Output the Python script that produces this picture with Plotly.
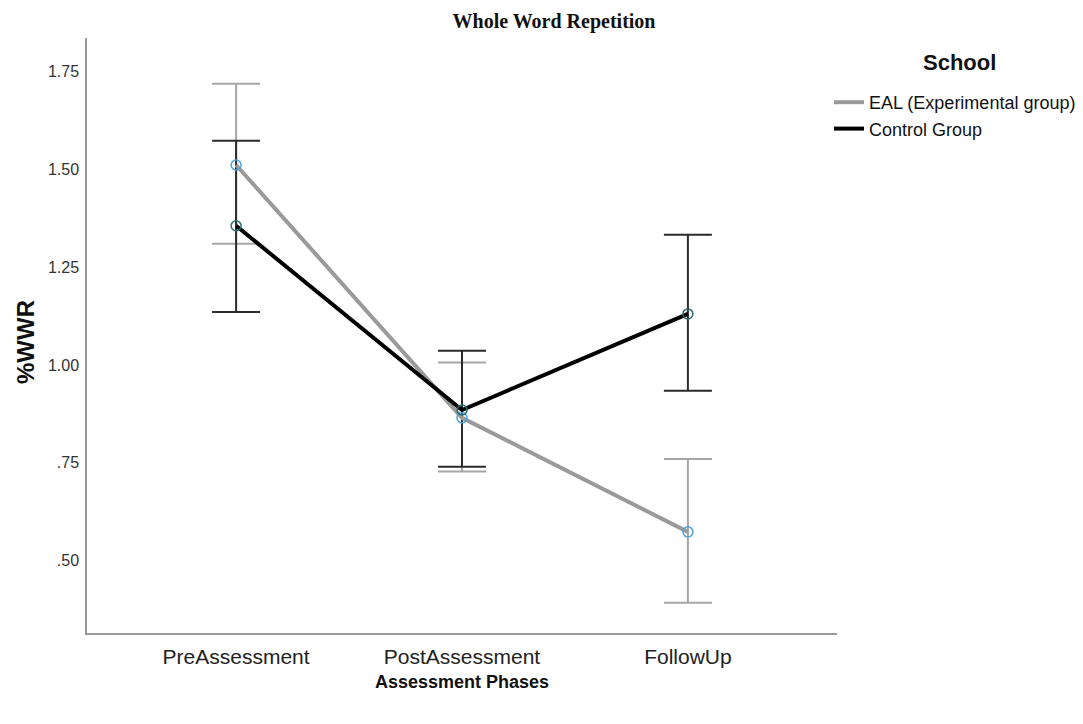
import plotly.graph_objects as go

phases = ["PreAssessment", "PostAssessment", "FollowUp"]
eal_mean = [1.51, 0.865, 0.574]
eal_upper = [1.717, 1.006, 0.760]
eal_lower = [1.309, 0.728, 0.393]
ctl_mean = [1.355, 0.885, 1.130]
ctl_upper = [1.572, 1.036, 1.332]
ctl_lower = [1.135, 0.740, 0.934]
ytick_vals = [0.5, 0.75, 1.0, 1.25, 1.5, 1.75]
ytick_text = [".50", ".75", "1.00", "1.25", "1.50", "1.75"]

SANS = "Liberation Sans, Arial, sans-serif"

xi = [0, 1, 2]

def err(mean, up, lo):
    return dict(type="data", symmetric=False,
                array=[u - m for u, m in zip(up, mean)],
                arrayminus=[m - l for m, l in zip(mean, lo)])

fig = go.Figure()

e1 = err(eal_mean, eal_upper, eal_lower)
e1.update(color="#a6a6a6", thickness=2, width=24)
fig.add_trace(go.Scatter(x=xi, y=eal_mean, mode="markers", marker=dict(size=1, color="rgba(0,0,0,0)"),
                         error_y=e1, showlegend=False, hoverinfo="skip"))
e2 = err(ctl_mean, ctl_upper, ctl_lower)
e2.update(color="#2b2b2b", thickness=2, width=24)
fig.add_trace(go.Scatter(x=xi, y=ctl_mean, mode="markers", marker=dict(size=1, color="rgba(0,0,0,0)"),
                         error_y=e2, showlegend=False, hoverinfo="skip"))

fig.add_trace(go.Scatter(x=xi, y=eal_mean, mode="lines", name="EAL (Experimental group)",
                         line=dict(color="#9a9a9a", width=4)))
fig.add_trace(go.Scatter(x=xi, y=ctl_mean, mode="lines", name="Control Group",
                         line=dict(color="#000000", width=4)))

fig.add_trace(go.Scatter(x=xi, y=eal_mean, mode="markers", showlegend=False,
                         marker=dict(symbol="circle-open", size=10, color="#4aa3df", line=dict(width=1.5))))
fig.add_trace(go.Scatter(x=xi, y=ctl_mean, mode="markers", showlegend=False,
                         marker=dict(symbol="circle-open", size=10, color="#2a7070", line=dict(width=1.5))))

W, H = 1083, 724
L, R, T, B = 87, 837, 38, 633

def cx(px):
    return px / W

def cy(py):
    return 1 - py / H

fig.update_layout(
    width=W, height=H,
    margin=dict(l=L, r=W - R, t=T, b=H - B, autoexpand=False),
    paper_bgcolor="white", plot_bgcolor="white",
    title=dict(text="<b>Whole Word Repetition</b>", x=cx(554), xref="container", xanchor="center",
               y=cy(21), yref="container", yanchor="middle",
               font=dict(family="Liberation Serif, Times New Roman, serif", size=20, color="#111")),
    xaxis=dict(range=[-0.66, 2.66], tickvals=xi, ticktext=phases, showgrid=False, zeroline=False,
               showline=True, linecolor="#9a9a9a", linewidth=1.5, ticks="", ticklabelstandoff=4,
               tickfont=dict(family=SANS, size=21, color="#222")),
    yaxis=dict(range=[0.316, 1.834], tickvals=ytick_vals, ticktext=ytick_text, showgrid=False,
               zeroline=False, showline=True, linecolor="#9a9a9a", linewidth=1.5, ticks="",
               ticklabelstandoff=3,
               tickfont=dict(family=SANS, size=16, color="#333")),
    legend=dict(x=cx(829), xref="container", xanchor="left", y=cy(84), yref="container", yanchor="top",
                font=dict(family=SANS, size=18, color="#111"),
                bgcolor="rgba(0,0,0,0)", itemwidth=30, tracegroupgap=0),
    annotations=[
        dict(text="<b>School</b>", x=cx(959), xref="paper", y=cy(63), yref="paper",
             showarrow=False, font=dict(family=SANS, size=22, color="#111"),
             xanchor="center", yanchor="middle"),
        dict(text="<b>Assessment Phases</b>", x=cx(462), y=cy(682), showarrow=False,
             font=dict(family=SANS, size=18, color="#111"), xanchor="center", yanchor="middle"),
        dict(text="<b>%WWR</b>", x=cx(25), y=cy(342), showarrow=False, textangle=-90,
             font=dict(family=SANS, size=24, color="#111"), xanchor="center", yanchor="middle"),
    ],
)
for a in fig.layout.annotations:
    a.update(xref="paper", yref="paper",
             x=(a.x * W - L) / (R - L), y=((1 - a.y) * H - B) / (T - B))

fig.write_html("out.html")
